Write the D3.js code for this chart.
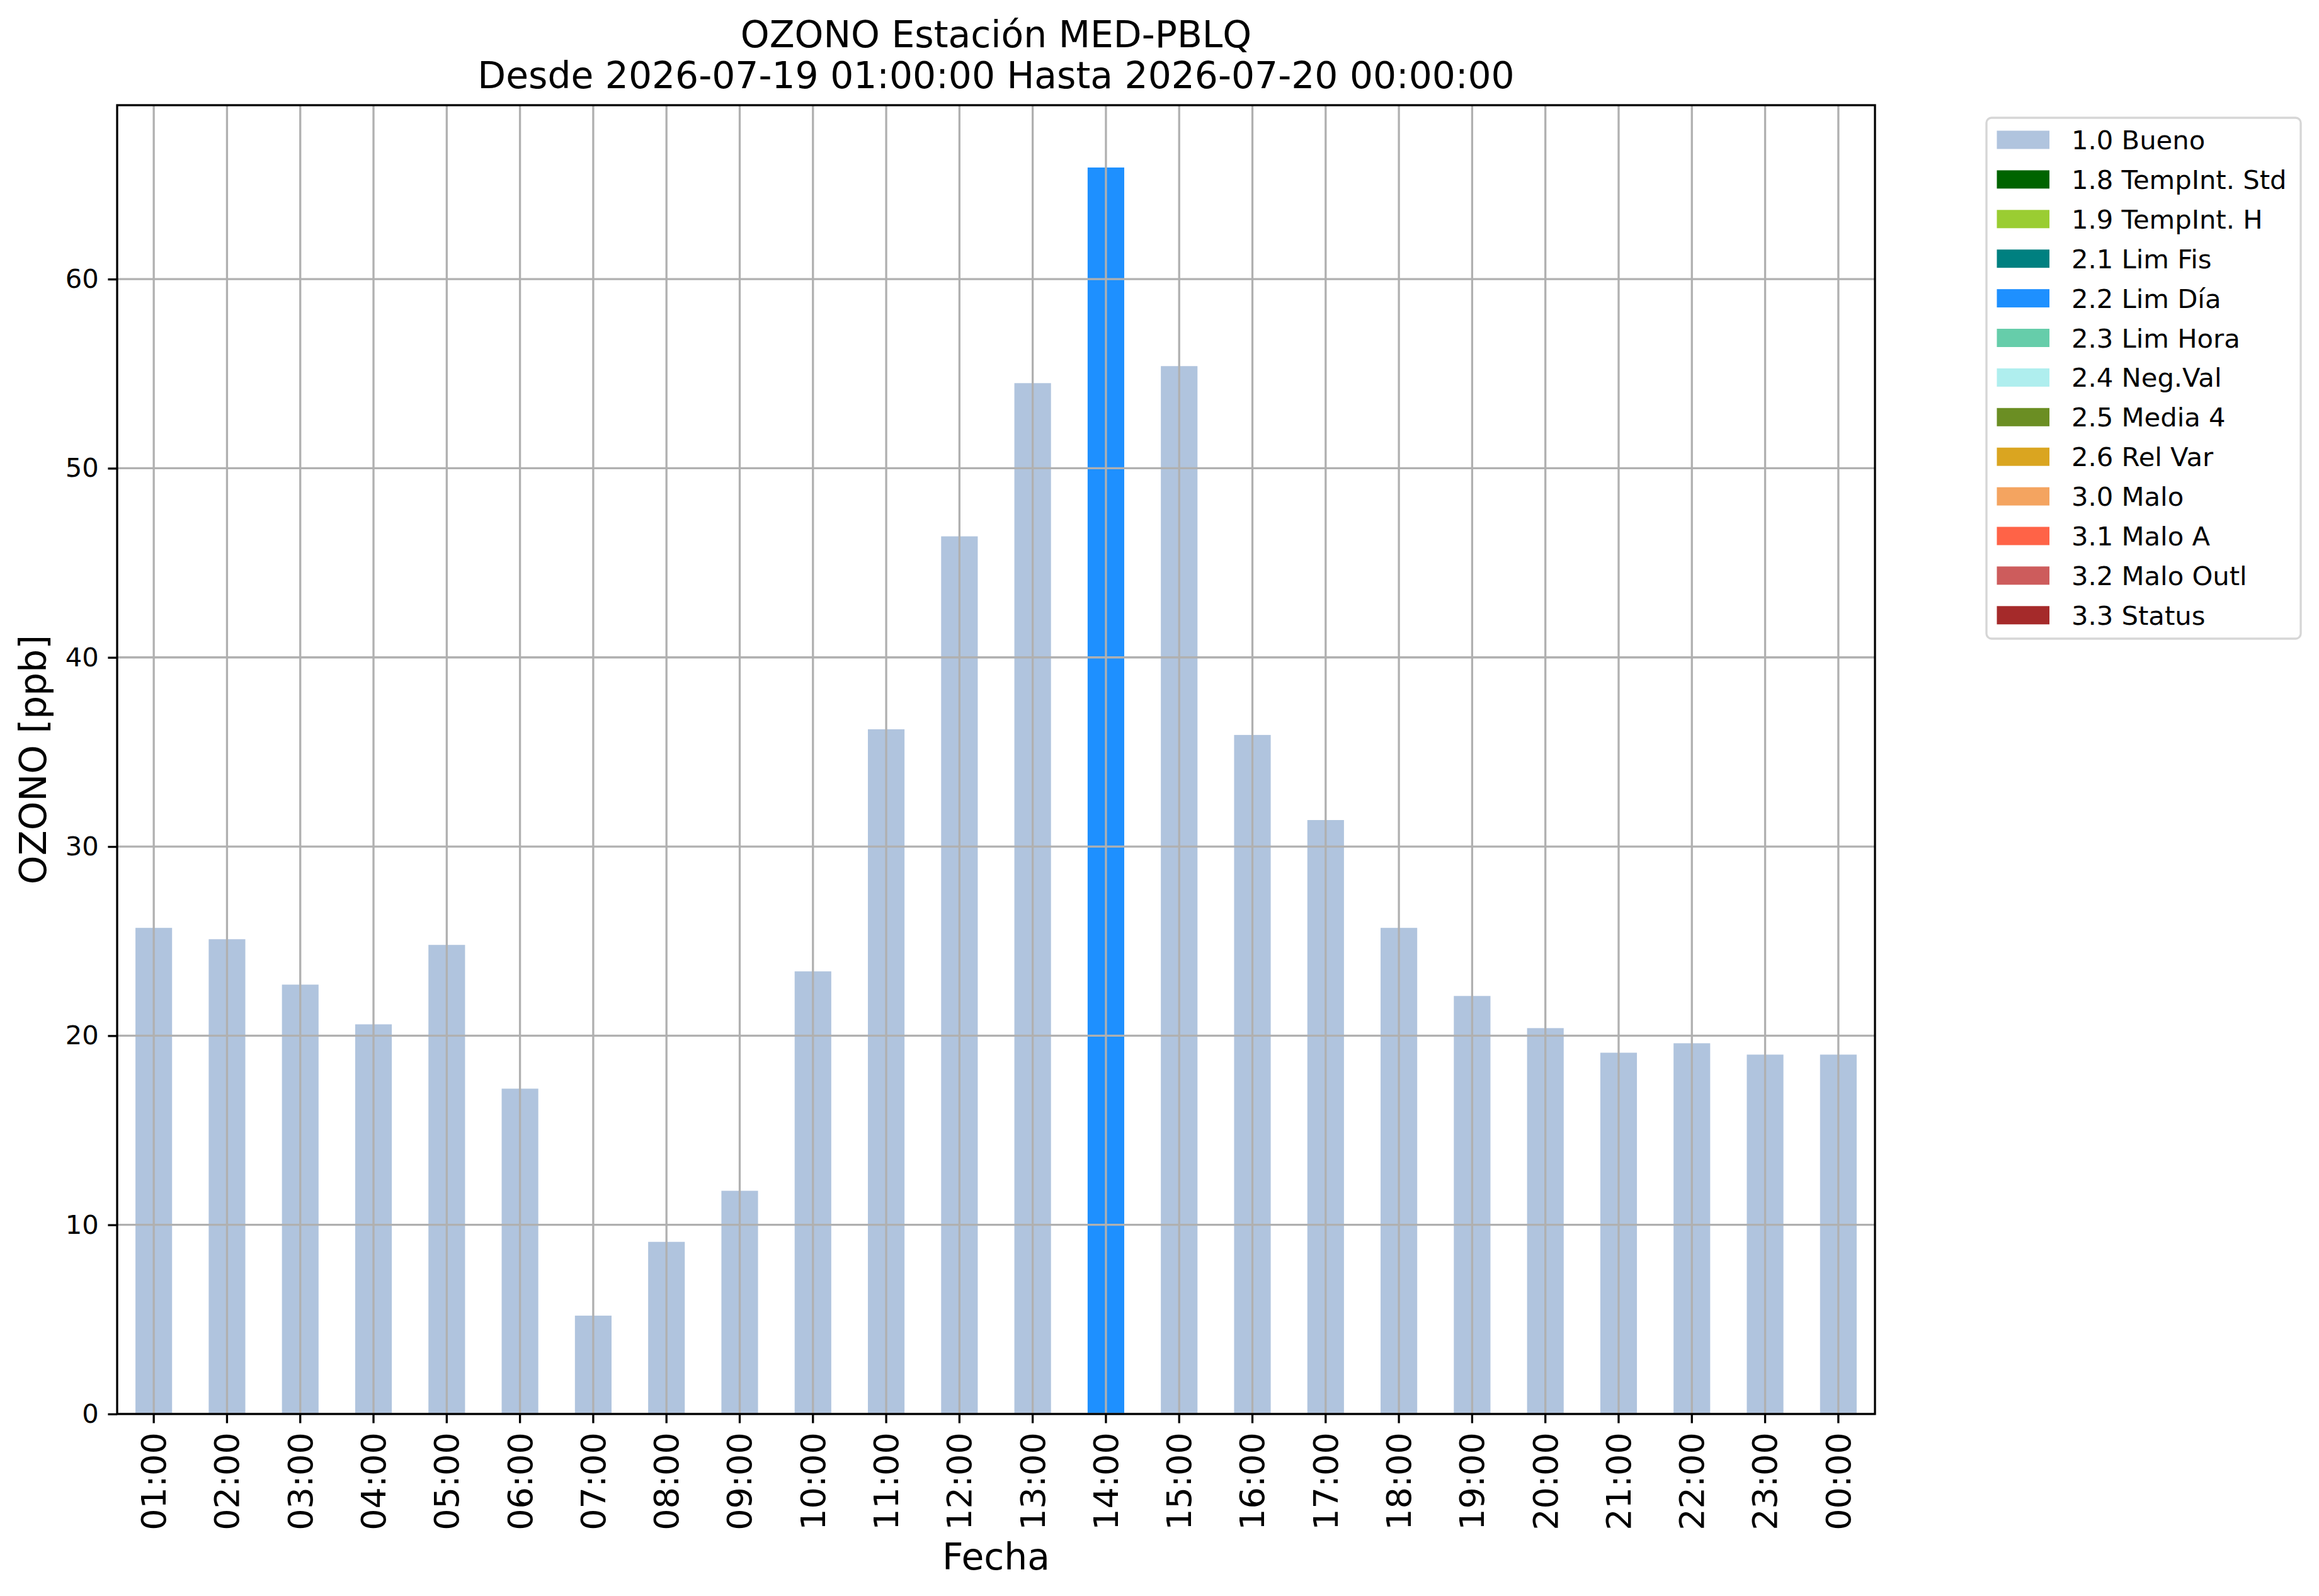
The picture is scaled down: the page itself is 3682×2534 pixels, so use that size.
<!DOCTYPE html>
<html>
<head>
<meta charset="utf-8">
<script src="https://cdn.jsdelivr.net/npm/d3@7"></script>
<style>
  html, body { margin: 0; padding: 0; background: #fff; }
  svg { display: block; font-family: 'DejaVu Sans', sans-serif; }
</style>
</head>
<body>
<div id="chart"></div>
<script>
// Hourly OZONO readings and their validation flag
const hours = ['01:00', '02:00', '03:00', '04:00', '05:00', '06:00', '07:00', '08:00',
  '09:00', '10:00', '11:00', '12:00', '13:00', '14:00', '15:00', '16:00',
  '17:00', '18:00', '19:00', '20:00', '21:00', '22:00', '23:00', '00:00'];
const values = [25.7, 25.1, 22.7, 20.6, 24.8, 17.2, 5.2, 9.1, 11.8, 23.4, 36.2, 46.4,
  54.5, 65.9, 55.4, 35.9, 31.4, 25.7, 22.1, 20.4, 19.1, 19.6, 19.0, 19.0];
const flags = ['1.0 Bueno', '1.0 Bueno', '1.0 Bueno', '1.0 Bueno', '1.0 Bueno', '1.0 Bueno',
  '1.0 Bueno', '1.0 Bueno', '1.0 Bueno', '1.0 Bueno', '1.0 Bueno', '1.0 Bueno',
  '1.0 Bueno', '2.2 Lim Día', '1.0 Bueno', '1.0 Bueno', '1.0 Bueno', '1.0 Bueno',
  '1.0 Bueno', '1.0 Bueno', '1.0 Bueno', '1.0 Bueno', '1.0 Bueno', '1.0 Bueno'];
const categories = ['1.0 Bueno', '1.8 TempInt. Std', '1.9 TempInt. H', '2.1 Lim Fis',
  '2.2 Lim Día', '2.3 Lim Hora', '2.4 Neg.Val', '2.5 Media 4', '2.6 Rel Var',
  '3.0 Malo', '3.1 Malo A', '3.2 Malo Outl', '3.3 Status'];
const titleLines = ['OZONO Estación MED-PBLQ', 'Desde 2026-07-19 01:00:00 Hasta 2026-07-20 00:00:00'];

const W = 3682, H = 2534;
const m = { left: 186, right: 2977, top: 167, bottom: 2245 };
const tickLen = 14.6, tickPad = 14.6;

const color = d3.scaleOrdinal()
  .domain(categories)
  .range(['#b0c4de', '#006400', '#9acd32', '#008080', '#1e90ff', '#66cdaa', '#afeeee',
    '#6b8e23', '#daa520', '#f4a460', '#ff6347', '#cd5c5c', '#a52a2a']);

const svg = d3.select('#chart').append('svg')
  .attr('width', W).attr('height', H);
svg.append('rect').attr('width', W).attr('height', H).attr('fill', '#fff');

const x = d3.scaleBand()
  .domain(hours)
  .range([m.left, m.right])
  .paddingInner(0.5)
  .paddingOuter(0.25);

const y = d3.scaleLinear()
  .domain([0, d3.max(values) * 1.05])
  .range([m.bottom, m.top]);

// one row per hour, value sits in the column of its flag
const rows = hours.map((h, i) => {
  const r = { hour: h };
  categories.forEach(c => { r[c] = flags[i] === c ? values[i] : 0; });
  return r;
});
const series = d3.stack().keys(categories)(rows);

svg.append('g')
  .selectAll('g')
  .data(series)
  .join('g')
  .attr('fill', d => color(d.key))
  .selectAll('rect')
  .data(d => d.filter(p => p[1] - p[0] > 0))
  .join('rect')
  .attr('x', d => x(d.data.hour))
  .attr('width', x.bandwidth())
  .attr('y', d => y(d[1]))
  .attr('height', d => y(d[0]) - y(d[1]));

// grid on top of the bars
const yTicks = y.ticks(7);
const grid = svg.append('g').attr('stroke', '#b0b0b0').attr('stroke-width', 3.3);
grid.selectAll('line.gx')
  .data(hours)
  .join('line')
  .attr('class', 'gx')
  .attr('x1', d => x(d) + x.bandwidth() / 2)
  .attr('x2', d => x(d) + x.bandwidth() / 2)
  .attr('y1', m.top).attr('y2', m.bottom);
grid.selectAll('line.gy')
  .data(yTicks)
  .join('line')
  .attr('class', 'gy')
  .attr('x1', m.left).attr('x2', m.right)
  .attr('y1', d => y(d)).attr('y2', d => y(d));

// axes
const xAxis = svg.append('g')
  .attr('transform', `translate(0,${m.bottom})`)
  .call(d3.axisBottom(x).tickSize(tickLen).tickPadding(tickPad));
xAxis.select('.domain').remove();
xAxis.selectAll('line').attr('stroke', '#000').attr('stroke-width', 3.3);
xAxis.selectAll('text')
  .attr('font-size', 54)
  .attr('font-family', 'DejaVu Sans')
  .attr('fill', '#000')
  .attr('transform', 'rotate(-90)')
  .attr('x', -(tickLen + tickPad))
  .attr('y', 0)
  .attr('dy', '0.35em')
  .attr('text-anchor', 'end');

const yAxis = svg.append('g')
  .attr('transform', `translate(${m.left},0)`)
  .call(d3.axisLeft(y).tickValues(yTicks).tickSize(tickLen).tickPadding(tickPad));
yAxis.select('.domain').remove();
yAxis.selectAll('line').attr('stroke', '#000').attr('stroke-width', 3.3);
yAxis.selectAll('text')
  .attr('font-size', 41.7)
  .attr('font-family', 'DejaVu Sans')
  .attr('fill', '#000');

// spines
svg.append('rect')
  .attr('x', m.left).attr('y', m.top)
  .attr('width', m.right - m.left).attr('height', m.bottom - m.top)
  .attr('fill', 'none').attr('stroke', '#000').attr('stroke-width', 3.3);

// labels and title
svg.append('text')
  .attr('x', (m.left + m.right) / 2).attr('y', 2492)
  .attr('text-anchor', 'middle').attr('font-size', 58.3)
  .text('Fecha');

svg.append('text')
  .attr('transform', `translate(73,${(m.top + m.bottom) / 2}) rotate(-90)`)
  .attr('text-anchor', 'middle').attr('font-size', 58.3)
  .text('OZONO [ppb]');

svg.append('g')
  .selectAll('text')
  .data(titleLines)
  .join('text')
  .attr('x', (m.left + m.right) / 2)
  .attr('y', (d, i) => 75 + i * 65)
  .attr('text-anchor', 'middle')
  .attr('font-size', 58.3)
  .text(d => d);

// legend
const lg = svg.append('g').attr('transform', 'translate(3154,187)');
lg.append('rect')
  .attr('width', 499).attr('height', 827)
  .attr('rx', 8).attr('ry', 8)
  .attr('fill', '#fff').attr('stroke', '#d6d6d6').attr('stroke-width', 3.3);
const item = lg.selectAll('g.item')
  .data(categories)
  .join('g')
  .attr('class', 'item')
  .attr('transform', (d, i) => `translate(0,${35 + i * 62.9})`);
item.append('rect')
  .attr('x', 16.5).attr('y', -14.5)
  .attr('width', 83.5).attr('height', 29)
  .attr('fill', d => color(d));
item.append('text')
  .attr('x', 135).attr('y', 0)
  .attr('dy', '0.36em')
  .attr('font-size', 41.7)
  .text(d => d);
</script>
</body>
</html>
